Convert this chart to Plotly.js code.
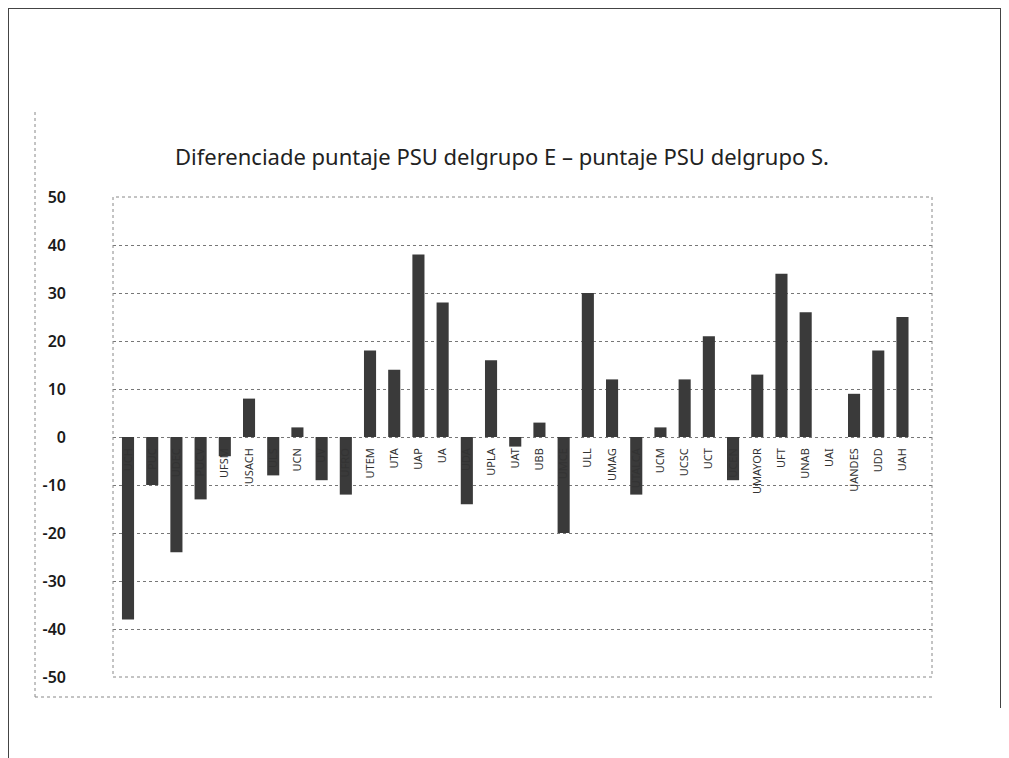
<!DOCTYPE html>
<html>
<head>
<meta charset="utf-8">
<script src="https://cdn.plot.ly/plotly-3.0.1.min.js"></script>
<style>
  html, body { margin: 0; padding: 0; background: #fff; }
  #frame { position: absolute; left: 8px; top: 8px; width: 992px; height: 760px;
           border-left: 1px solid #444; border-top: 1px solid #444; }
  #rframe { position: absolute; left: 1000px; top: 8px; width: 0; height: 700px; border-left: 1px solid #444; }
  #chart { position: absolute; left: 0; top: 0; width: 1009px; height: 758px; }
</style>
</head>
<body>
<div id="frame"></div>
<div id="rframe"></div>
<div id="chart"></div>
<script>
const universidades = ["UCH","PUC","UDEC","PUCV","UFSM","USACH","ULS","UCN","UV","UFRO",
  "UTEM","UTA","UAP","UA","UDA","UPLA","UAT","UBB","UMCE","ULL",
  "UMAG","UTALCA","UCM","UCSC","UCT","UCEN","UMAYOR","UFT","UNAB","UAI",
  "UANDES","UDD","UAH"];
const diferencia = [-38,-10,-24,-13,-4,8,-8,2,-9,-12,
  18,14,38,28,-14,16,-2,3,-20,30,
  12,-12,2,12,21,-9,13,34,26,0,
  9,18,25];
const yTicks = [-50,-40,-30,-20,-10,0,10,20,30,40,50];

const trace = {
  type: 'bar',
  x: universidades,
  y: diferencia,
  width: 0.5,
  marker: { color: '#3a3a3a', line: { width: 0 } },
  hoverinfo: 'x+y'
};

const layout = {
  width: 1009, height: 758,
  margin: { l: 113, r: 77, t: 197, b: 81 },
  paper_bgcolor: 'rgba(0,0,0,0)',
  plot_bgcolor: 'rgba(0,0,0,0)',
  showlegend: false,
  title: {
    text: 'Diferenciade puntaje PSU delgrupo E – puntaje PSU delgrupo S.',
    font: { family: 'Noto Sans, sans-serif', size: 22, color: '#222' },
    xref: 'container', yref: 'container',
    x: 502/1009, xanchor: 'center',
    y: 1 - 157/758, yanchor: 'middle'
  },
  xaxis: {
    type: 'category',
    range: [-0.62, 33.22],
    anchor: 'free', position: 0.5,
    showgrid: false, zeroline: false, showline: false,
    ticks: '', tickangle: -90,
    ticklabelstandoff: 8,
    tickfont: { family: 'Noto Sans, sans-serif', size: 11, color: '#333' }
  },
  yaxis: {
    range: [-50, 50],
    tickvals: yTicks,
    ticktext: yTicks.map(String),
    showgrid: true, gridcolor: '#777', griddash: 'dot', gridwidth: 1,
    zeroline: false, showline: false, ticks: '',
    ticklabelstandoff: 46,
    tickfont: { family: 'Noto Sans, sans-serif', size: 16, color: '#1a1a1a', weight: 600 }
  },
  shapes: [
    { type: 'rect', xref: 'paper', yref: 'paper', x0: 0, x1: 1, y0: 0, y1: 1,
      line: { color: '#888', width: 1, dash: 'dot' } },
    { type: 'line', xref: 'paper', yref: 'paper', x0: -78/819, x1: 1.0, y0: -20/480, y1: -20/480,
      line: { color: '#888', width: 1, dash: 'dot' } },
    { type: 'line', xref: 'paper', yref: 'paper', x0: -78/819, x1: -78/819, y0: -20/480, y1: 1 + 85/480,
      line: { color: '#888', width: 1, dash: 'dot' } }
  ]
};

Plotly.newPlot('chart', [trace], layout, { displayModeBar: false, staticPlot: true });
</script>
</body>
</html>
